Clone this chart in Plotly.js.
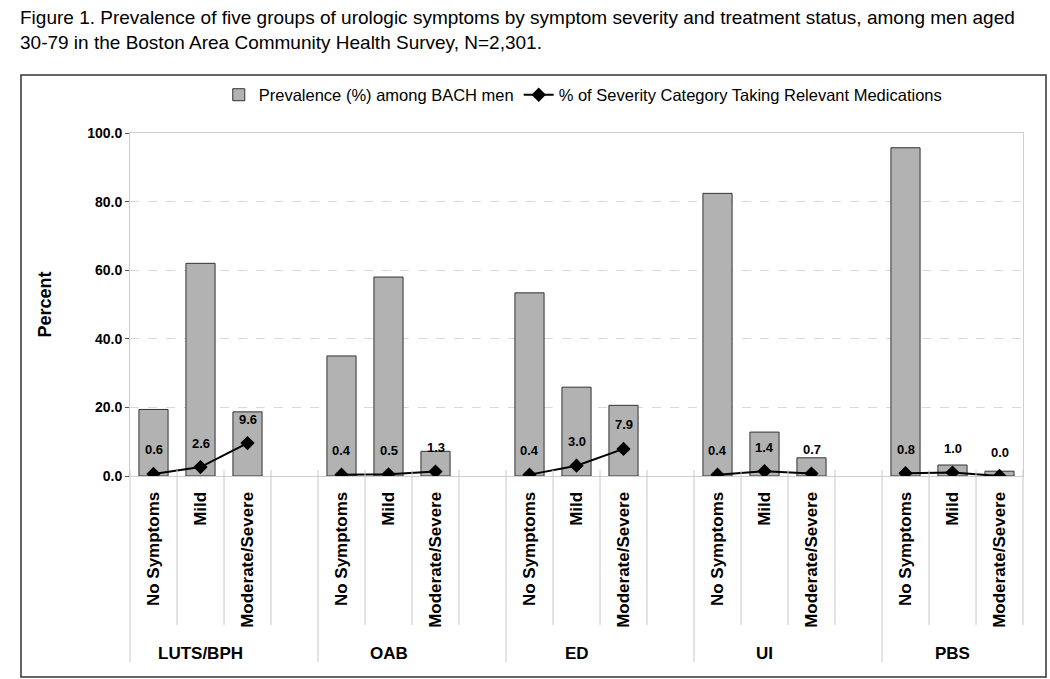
<!DOCTYPE html>
<html>
<head>
<meta charset="utf-8">
<script src="https://cdn.plot.ly/plotly-3.0.1.min.js"></script>
<style>
  html, body { margin: 0; padding: 0; background: #fff; }
  #chart { width: 1050px; height: 679px; }
</style>
</head>
<body>
<div id="chart"></div>
<script>
// symptom groups and severity levels
var groups = ["LUTS/BPH", "OAB", "ED", "UI", "PBS"];
var severities = ["No Symptoms", "Mild", "Moderate/Severe"];

// prevalence (%) among BACH men, group by group
var prevalence = [19.4, 62.0, 18.7,  35.0, 58.0, 7.2,  53.4, 25.9, 20.6,  82.4, 12.8, 5.3,  95.7, 3.2, 1.4];
// % of severity category taking relevant medications
var medication = [0.6, 2.6, 9.6,  0.4, 0.5, 1.3,  0.4, 3.0, 7.9,  0.4, 1.4, 0.7,  0.8, 1.0, 0.0];

var slots = 4; // 3 bars + one empty slot between groups
var nCats = groups.length * slots - 1;

var barX = [], lineX = [], lineY = [], tickVals = [], tickText = [];
groups.forEach(function(g, gi) {
  severities.forEach(function(s, si) {
    var x = gi * slots + si;
    barX.push(x);
    lineX.push(x);
    lineY.push(medication[gi * 3 + si]);
    tickVals.push(x);
    tickText.push(s);
  });
  // break the line between groups
  lineX.push(gi * slots + 3);
  lineY.push(null);
});

var FONT = "Arial, Liberation Sans";

var bars = {
  x: barX,
  y: prevalence,
  type: "bar",
  width: 0.62,
  name: "Prevalence (%) among BACH men",
  marker: { color: "#b2b2b2", line: { color: "#333333", width: 1 } },
  hoverinfo: "skip"
};

var meds = {
  x: lineX,
  y: lineY,
  type: "scatter",
  mode: "lines+markers",
  connectgaps: false,
  name: "% of Severity Category Taking Relevant Medications",
  line: { color: "#000", width: 2 },
  marker: { symbol: "diamond", size: 11, color: "#000" },
  hoverinfo: "skip"
};

// plot area is 893 x 343 px; helpers for paper units outside it
var plotW = 893, plotH = 343;
function py(px) { return -px / plotH; }

var shapes = [];
for (var i = 0; i <= nCats; i++) {
  var isGroup = (i % slots === 0) && i < nCats;
  shapes.push({
    type: "line", xref: "paper", yref: "paper",
    x0: i / nCats, x1: i / nCats,
    y0: 6 / plotH, y1: isGroup ? py(186) : py(149),
    line: { color: "#c8c8c8", width: 1 }
  });
}
// outer frame
shapes.push({
  type: "rect", xref: "paper", yref: "paper",
  x0: -109 / plotW, x1: 1 + 23 / plotW, y0: py(201), y1: 1 + 58 / plotH,
  line: { color: "#333333", width: 1.5 }
});

var annotations = [];
// figure caption
annotations.push({
  xref: "paper", yref: "paper",
  x: -112 / plotW, xanchor: "left",
  y: 1 + 128 / plotH, yanchor: "top",
  align: "left", showarrow: false,
  text: "Figure 1. Prevalence of five groups of urologic symptoms by symptom severity and treatment status, among men aged<br>30-79 in the Boston Area Community Health Survey, N=2,301.",
  font: { family: FONT, size: 19, color: "#000" }
});
groups.forEach(function(g, gi) {
  annotations.push({
    x: gi * slots + 1, y: py(177), xref: "x", yref: "paper",
    yanchor: "middle",
    text: g, showarrow: false,
    font: { family: FONT, size: 17, weight: "bold", color: "#000" }
  });
});
lineX.forEach(function(x, k) {
  if (lineY[k] === null) return;
  annotations.push({
    x: x, y: lineY[k], xref: "x", yref: "y",
    yanchor: "middle",
    text: lineY[k].toFixed(1), showarrow: false,
    yshift: 24,
    font: { family: FONT, size: 13, weight: "bold", color: "#000" }
  });
});

var layout = {
  width: 1050,
  height: 679,
  paper_bgcolor: "#fff",
  plot_bgcolor: "#fff",
  margin: { l: 130, r: 27, t: 133, b: 203 },
  font: { family: FONT, color: "#000" },
  showlegend: true,
  legend: {
    orientation: "h",
    x: 0.507, xanchor: "center",
    y: 1 + 381 / plotH - 1, yanchor: "middle",
    font: { family: FONT, size: 16.5, color: "#000" },
    bgcolor: "rgba(0,0,0,0)"
  },
  xaxis: {
    range: [-0.5, nCats - 0.5],
    tickmode: "array",
    tickvals: tickVals,
    ticktext: tickText,
    tickangle: -90,
    tickfont: { family: FONT, size: 17, weight: "bold", color: "#000" },
    ticks: "",
    ticklabelstandoff: 8,
    showgrid: false,
    zeroline: false,
    showline: true,
    mirror: true,
    linecolor: "#cfcfcf",
    linewidth: 1
  },
  yaxis: {
    range: [0, 100],
    tickvals: [0, 20, 40, 60, 80, 100],
    tickformat: ".1f",
    tickfont: { family: FONT, size: 14, weight: "bold", color: "#000" },
    ticks: "outside",
    ticklen: 4,
    tickcolor: "#555",
    showgrid: true,
    gridcolor: "#d9d9d9",
    griddash: "dash",
    zeroline: false,
    showline: true,
    mirror: true,
    linecolor: "#cfcfcf",
    linewidth: 1,
    title: {
      text: "Percent",
      standoff: 30,
      font: { family: FONT, size: 18, weight: "bold", color: "#000" }
    }
  },
  shapes: shapes,
  annotations: annotations
};

Plotly.newPlot("chart", [bars, meds], layout, { displayModeBar: false, staticPlot: true });
</script>
</body>
</html>
